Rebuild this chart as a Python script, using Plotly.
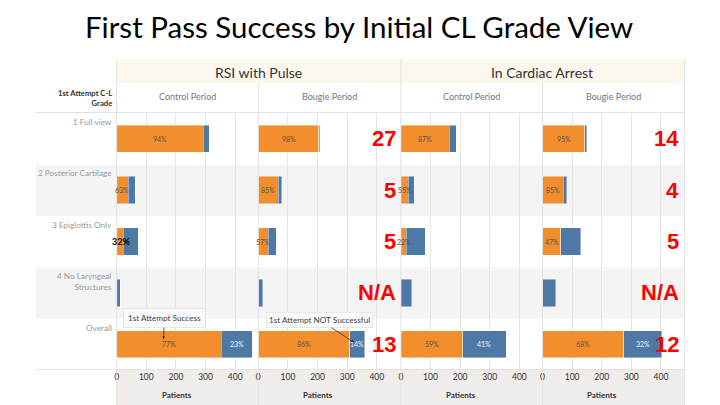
import plotly.graph_objects as go

# ---------------- data ----------------
grades = ["1 Full view", "2 Posterior Cartilage", "3 Epiglottis Only",
          "4 No Laryngeal<br>Structures", "Overall"]
panels = ["RSI Control", "RSI Bougie", "Arrest Control", "Arrest Bougie"]
groups = ["RSI with Pulse", "In Cardiac Arrest"]
periods = ["Control Period", "Bougie Period", "Control Period", "Bougie Period"]

# 1st attempt success / not successful (patients), per panel, per grade
rsi_control_success = [293, 39, 23, 0, 353]
rsi_control_fail = [19, 23, 49, 12, 105]
rsi_bougie_success = [204, 68, 34, 0, 309]
rsi_bougie_fail = [4, 12, 26, 15, 50]
arrest_control_success = [163, 25, 18, 0, 209]
arrest_control_fail = [24, 20, 64, 36, 146]
arrest_bougie_success = [143, 70, 61, 0, 274]
arrest_bougie_fail = [7, 12, 68, 44, 129]

rsi_control_pct = ["94%", "63%", "32%", "", "77%"]
rsi_bougie_pct = ["98%", "85%", "57%", "", "86%"]
arrest_control_pct = ["87%", "55%", "22%", "", "59%"]
arrest_bougie_pct = ["95%", "85%", "47%", "", "68%"]
overall_fail_pct = ["23%", "14%", "41%", "32%"]

rsi_red_counts = ["27", "5", "5", "N/A", "13"]
arrest_red_counts = ["14", "4", "5", "N/A", "12"]

tick_vals = [0, 100, 200, 300, 400]

# ---------------- layout helpers ----------------
W, H = 720, 405
def px(x):
    return x / W
def py(y):
    return (H - y) / H

ORANGE = "#F28E2B"
BLUE = "#4E79A7"
LINE = "#e2e2e2"

succ = [rsi_control_success, rsi_bougie_success, arrest_control_success, arrest_bougie_success]
fail = [rsi_control_fail, rsi_bougie_fail, arrest_control_fail, arrest_bougie_fail]
pcts = [rsi_control_pct, rsi_bougie_pct, arrest_control_pct, arrest_bougie_pct]

panel_left = [115, 257, 400, 542]
panel_w = 142
rows_top, rows_bot = 113, 370
xmax = 478

fig = go.Figure()
rows = list(range(len(grades)))

for i in range(4):
    xa = "x" if i == 0 else f"x{i+1}"
    ya = "y" if i == 0 else f"y{i+1}"
    fig.add_trace(go.Bar(y=rows, x=succ[i], orientation="h", marker_color=ORANGE,
                         marker_line=dict(color="rgba(255,255,255,0.7)", width=0.6),
                         width=0.53, xaxis=xa, yaxis=ya, showlegend=False, hoverinfo="x"))
    fig.add_trace(go.Bar(y=rows, x=fail[i], orientation="h", marker_color=BLUE,
                         marker_line=dict(color="rgba(255,255,255,0.7)", width=0.6),
                         width=0.53, xaxis=xa, yaxis=ya, showlegend=False, hoverinfo="x"))

fig.update_layout(barmode="stack")

shapes = []
row_h = (rows_bot - rows_top) / 5
for r in [1, 3]:
    shapes.append(dict(type="rect", xref="paper", yref="paper",
                       x0=px(34), x1=px(684), y0=py(rows_top + (r + 1) * row_h), y1=py(rows_top + r * row_h),
                       fillcolor="#f4f4f4", line_width=0, layer="below"))
shapes.append(dict(type="rect", xref="paper", yref="paper", x0=px(115), x1=px(684),
                   y0=py(83), y1=py(59), fillcolor="#fdf8ee", line_width=0, layer="below"))
shapes.append(dict(type="rect", xref="paper", yref="paper", x0=px(115), x1=px(684),
                   y0=py(405), y1=py(370), fillcolor="#f0edea", line_width=0, layer="below"))
for yy in [112.5, 369.5]:
    shapes.append(dict(type="line", xref="paper", yref="paper", x0=px(34), x1=px(684),
                       y0=py(yy), y1=py(yy), line=dict(color=LINE, width=1)))
for xx, top in [(115, 59), (257, 83), (400, 59), (542, 83), (684.5, 59)]:
    shapes.append(dict(type="line", xref="paper", yref="paper", x0=px(xx), x1=px(xx),
                       y0=py(405), y1=py(top), line=dict(color=LINE, width=1)))
fig.update_layout(shapes=shapes)

axis_common = dict(range=[0, xmax], tickvals=tick_vals, showgrid=True, gridcolor="#e6e6e6",
                   gridwidth=1, zeroline=False, showline=False, ticks="", ticklen=3,
                   tickfont=dict(family="Lato", size=8.5, color="#333"), fixedrange=True)
y_common = dict(range=[4.5, -0.5], domain=[py(rows_bot), py(rows_top)], showticklabels=False,
                showgrid=False, zeroline=False, fixedrange=True)
lay = {}
for i in range(4):
    k = "" if i == 0 else str(i + 1)
    lay["xaxis" + k] = dict(axis_common, domain=[px(panel_left[i]), px(panel_left[i] + panel_w)],
                            anchor="y" + k)
    lay["yaxis" + k] = dict(y_common, anchor="x" + k)
fig.update_layout(**lay)

ann = []
ann.append(dict(text="First Pass Success by Initial CL Grade View", xref="paper", yref="paper",
                x=px(358), y=py(26), showarrow=False, xanchor="center", yanchor="middle",
                font=dict(family="Lato", size=29.5, color="#000")))
for g, cx in zip(groups, [257.5, 542]):
    ann.append(dict(text=g, xref="paper", yref="paper", x=px(cx), y=py(72), showarrow=False,
                    xanchor="center", yanchor="middle", font=dict(family="Lato", size=14, color="#333")))
for i, p in enumerate(periods):
    ann.append(dict(text=p, xref="paper", yref="paper", x=px(panel_left[i] + panel_w / 2), y=py(97),
                    showarrow=False, xanchor="center", yanchor="middle",
                    font=dict(family="Lato", size=9, color="#777")))
ann.append(dict(text="<b>1st Attempt C-L<br>Grade</b>", xref="paper", yref="paper", x=px(112), y=py(98),
                showarrow=False, xanchor="right", yanchor="middle", align="right",
                font=dict(family="Lato", size=7.7, color="#333")))
for r, g in enumerate(grades):
    ann.append(dict(text=g, xref="paper", yref="paper", x=px(112), y=py(rows_top + r * row_h + 2),
                    showarrow=False, xanchor="right", yanchor="top", align="right",
                    font=dict(family="Lato", size=8.2, color="#999")))
for i in range(4):
    k = "" if i == 0 else str(i + 1)
    for r in rows:
        t = pcts[i][r]
        if not t:
            continue
        bold = (i == 0 and r == 2)
        ann.append(dict(text=f"<b>{t}</b>" if bold else t, xref="x" + k, yref="y" + k,
                        x=succ[i][r] / 2 + (2 if bold else 0), y=r, showarrow=False,
                        xanchor="center", yanchor="middle",
                        font=dict(family="Lato", size=9 if bold else 7, color="#000" if bold else "#555")))
    ann.append(dict(text=overall_fail_pct[i], xref="x" + k, yref="y" + k,
                    x=succ[i][4] + fail[i][4] / 2, y=4, showarrow=False,
                    xanchor="center", yanchor="middle", font=dict(family="Lato", size=7, color="#eef2f6")))
for i in range(4):
    ann.append(dict(text="<b>Patients</b>", xref="paper", yref="paper", x=px(panel_left[i] + 60),
                    y=py(395), showarrow=False, xanchor="center", yanchor="middle",
                    font=dict(family="Lato", size=8, color="#333")))
for r in rows:
    for txt, xa, ya in [(rsi_red_counts[r], "x2", "y2"), (arrest_red_counts[r], "x4", "y4")]:
        ann.append(dict(text=f"<b>{txt}</b>", xref=xa, yref=ya, x=470 if xa == "x2" else 468, y=r,
                        showarrow=False, xanchor="right", yanchor="middle",
                        font=dict(family="Liberation Sans", size=22, color="#FF0000")))
ann.append(dict(text="1st Attempt Success", xref="x", yref="y", x=158, y=3.9,
                showarrow=True, ax=1, ay=-21, arrowhead=2, arrowsize=0.7, arrowwidth=0.8,
                arrowcolor="#333", bgcolor="rgba(250,250,250,0.95)", bordercolor="#e8e8e8",
                borderpad=4, font=dict(family="Lato", size=8.2, color="#444")))
ann.append(dict(text="1st Attempt NOT Successful", xref="x2", yref="y2", x=323, y=3.96,
                showarrow=True, ax=-34, ay=-22, arrowhead=2, arrowsize=0.7, arrowwidth=0.8,
                arrowcolor="#333", bgcolor="rgba(250,250,250,0.95)", bordercolor="#e8e8e8",
                borderpad=2, font=dict(family="Lato", size=8.2, color="#444")))
fig.update_layout(annotations=ann)

fig.update_layout(width=W, height=H, margin=dict(l=0, r=0, t=0, b=0),
                  paper_bgcolor="white", plot_bgcolor="rgba(0,0,0,0)", bargap=0.47)
fig.write_html("out.html")
